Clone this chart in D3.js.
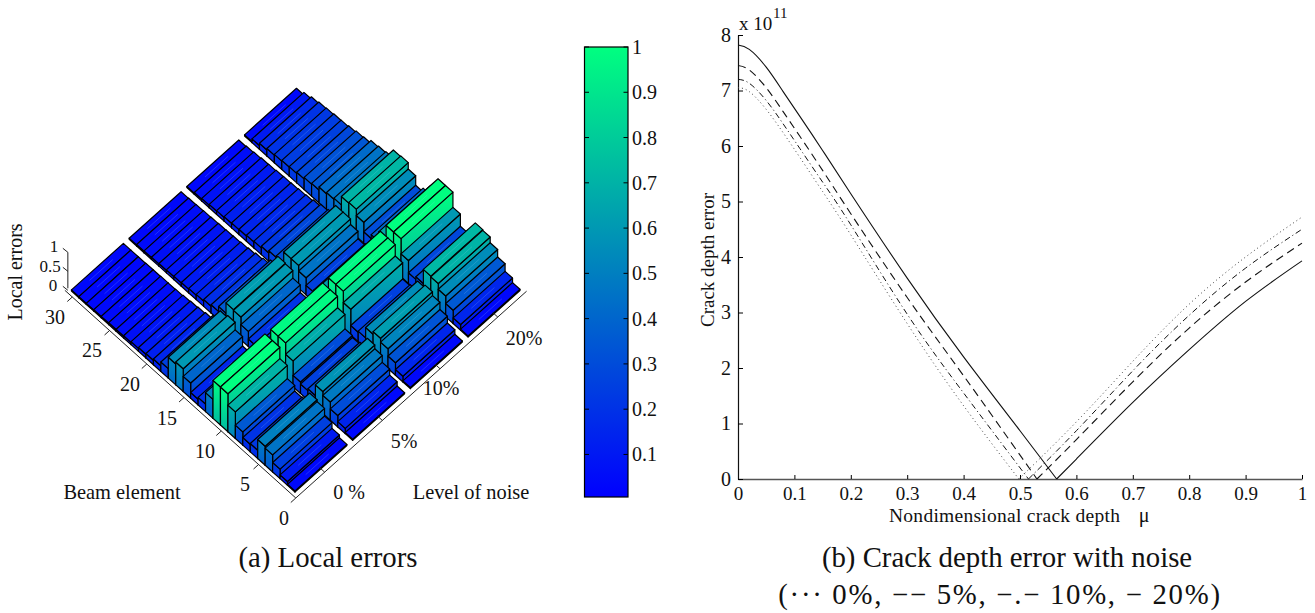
<!DOCTYPE html>
<html>
<head>
<meta charset="utf-8">
<script src="https://d3js.org/d3.v7.min.js"></script>
<style>
  html, body { margin: 0; padding: 0; background: #fff; }
  text { font-family: "Liberation Serif", serif; fill: #111; }
</style>
</head>
<body>
<div id="chart"></div>
<script>
// Local errors per beam element, one array per noise level (elements 1..30)
var noiseLabels = ['0 %', '5%', '10%', '20%'];
var errors0 = [.03,.1,.25,.45,.5,.22,.2,.35,.7,1,1,.5,.2,.15,.4,.6,.55,.25,.15,.12,.1,.08,.06,.05,.05,.04,.04,.03,.03,.03];
var errors5 = [.03,.14,.3,.48,.58,.3,.25,.3,.68,.98,.98,.45,.2,.2,.4,.6,.62,.35,.22,.18,.14,.12,.1,.09,.08,.07,.06,.05,.04,.03];
var errors10 = [.03,.15,.33,.52,.62,.55,.28,.25,.68,.98,.98,.62,.3,.25,.45,.6,.6,.32,.28,.22,.18,.16,.14,.13,.12,.1,.09,.07,.05,.03];
var errors20 = [.03,.15,.35,.55,.7,.72,.35,.28,.6,1,1,.65,.4,.3,.55,.72,.7,.48,.45,.42,.34,.32,.28,.25,.24,.22,.2,.16,.1,.03];
var errorLevels = [errors0, errors5, errors10, errors20];
var elementTicks = [0, 5, 10, 15, 20, 25, 30];
var errorTicks = [0, 0.5, 1];
var colorbarTicks = [0.1, 0.2, 0.3, 0.4, 0.5, 0.6, 0.7, 0.8, 0.9, 1];

// Crack depth error curves, in units of 10^11
var mu0 = [0,.02,.05,.08,.11,.15,.2,.3,.4,.498,.6,.7,.8,.9,1];
var depth0 = [7.05,6.98,6.66,6.24,5.79,5.18,4.4,2.8,1.32,0,1.03,2.12,3.15,4.0,4.72];
var mu5 = [0,.02,.05,.08,.11,.15,.2,.3,.4,.515,.6,.7,.8,.9,1];
var depth5 = [7.2,7.13,6.82,6.4,5.95,5.35,4.58,2.97,1.55,0,.87,1.95,2.95,3.8,4.5];
var mu10 = [0,.02,.05,.08,.11,.15,.2,.3,.4,.53,.6,.7,.8,.9,1];
var depth10 = [7.45,7.37,7.05,6.62,6.17,5.56,4.78,3.27,1.86,0,.71,1.75,2.72,3.55,4.25];
var mu20 = [0,.02,.05,.08,.11,.15,.2,.3,.4,.5,.565,.6,.7,.8,.9,1];
var depth20 = [7.82,7.74,7.42,6.98,6.53,5.92,5.14,3.62,2.2,.87,0,.36,1.38,2.33,3.2,3.93];

var svg = d3.select('#chart')
            .append('svg')
            .attr('width', 1315)
            .attr('height', 613);
var defs = svg.append('defs');

// Colormap (matlab winter)
var winter = d3.scaleLinear()
               .domain([0, 1])
               .range(['rgb(0,0,255)', 'rgb(0,255,128)']);

// 3D projection, each data axis moves the screen point along its own direction
var originX = 295.8, originY = 498;
var elemDx = d3.scaleLinear().domain([0, 30]).range([0, -223.5]);
var elemDy = d3.scaleLinear().domain([0, 30]).range([0, -201]);
var noiseDx = d3.scaleLinear().domain([0.5, 4.5]).range([0, 230.8]);
var noiseDy = d3.scaleLinear().domain([0.5, 4.5]).range([0, -206.8]);
var zDy = d3.scaleLinear().domain([0, 1]).range([0, -38]);

function project(e, n, z) {
  return [originX + elemDx(e) + noiseDx(n), originY + elemDy(e) + noiseDy(n) + zDy(z)];
}

function poly(points) {
  return points.map(function(p) { return p.join(','); }).join(' ');
}

// Bars, painted far to near
var bars = svg.append('g');
d3.range(errorLevels.length - 1, -1, -1).forEach(function(g) {
  var values = errorLevels[g];
  d3.range(values.length - 1, -1, -1).forEach(function(i) {
    var h = values[i];
    var e0 = i + 0.5, e1 = i + 1.5;
    var n0 = g + 1 - 0.45, n1 = g + 1 + 0.45;
    var id = 'bar-' + g + '-' + i;

    var grad = defs.append('linearGradient')
                   .attr('id', id)
                   .attr('x1', 0).attr('y1', 0)
                   .attr('x2', 0).attr('y2', 1);
    grad.append('stop').attr('offset', 0).attr('stop-color', winter(h));
    grad.append('stop').attr('offset', 1).attr('stop-color', winter(h * 0.72));

    var bar = bars.append('g')
                  .attr('stroke', '#000')
                  .attr('stroke-width', 1.2)
                  .attr('stroke-linejoin', 'round');
    // long side, towards lower elements
    bar.append('polygon')
       .attr('points', poly([project(e0, n0, h), project(e0, n1, h), project(e0, n1, 0), project(e0, n0, 0)]))
       .attr('fill', 'url(#' + id + ')');
    // short side, towards lower noise
    bar.append('polygon')
       .attr('points', poly([project(e0, n0, h), project(e1, n0, h), project(e1, n0, 0), project(e0, n0, 0)]))
       .attr('fill', 'url(#' + id + ')');
    // top
    bar.append('polygon')
       .attr('points', poly([project(e0, n0, h), project(e0, n1, h), project(e1, n1, h), project(e1, n0, h)]))
       .attr('fill', winter(h));
    // light streak left by the interpolated shading
    var mid = (e0 + e1) / 2;
    bar.append('line')
       .attr('x1', project(mid, n0 + 0.25, h)[0]).attr('y1', project(mid, n0 + 0.25, h)[1])
       .attr('x2', project(mid, n1 - 0.25, h)[0]).attr('y2', project(mid, n1 - 0.25, h)[1])
       .attr('stroke', '#9fd0ff')
       .attr('stroke-opacity', 0.3)
       .attr('stroke-width', 0.7);
  });
});

// 3D axes
var axes3d = svg.append('g').attr('stroke', '#222').attr('stroke-width', 1).attr('fill', 'none');
function seg(a, b) {
  axes3d.append('line')
        .attr('x1', a[0]).attr('y1', a[1])
        .attr('x2', b[0]).attr('y2', b[1]);
}
var corner = project(0, 0.5, 0);
var leftEnd = project(31, 0.5, 0);
seg(corner, leftEnd);
seg(corner, project(0, 4.5, 0));
seg([leftEnd[0] + 3, leftEnd[1] - 2], [leftEnd[0] + 3, zDy(1) + leftEnd[1] + 0]);

elementTicks.forEach(function(t) {
  var p = project(t, 0.5, 0);
  seg(p, [p[0] - 5, p[1] + 4.5]);
});
noiseLabels.forEach(function(l, i) {
  var p = project(0, i + 1, 0);
  seg(p, [p[0] - 5, p[1] - 4.5]);
});
errorTicks.forEach(function(t) {
  var x = leftEnd[0] + 3, y = leftEnd[1] + zDy(t);
  seg([x, y], [x - 5, y - 4]);
});

function label(x, y, s, size, anchor) {
  return svg.append('text')
            .attr('x', x).attr('y', y)
            .attr('font-size', size)
            .attr('text-anchor', anchor || 'middle')
            .text(s);
}

var elementLabelPos = [[284,525],[245,491],[205,458],[167,425],[130,391],[92,357],[55,324]];
elementTicks.forEach(function(t, i) {
  label(elementLabelPos[i][0], elementLabelPos[i][1], t, 20);
});
var noiseLabelPos = [[349,499],[404,448],[441,395],[524,345]];
noiseLabels.forEach(function(l, i) {
  label(noiseLabelPos[i][0], noiseLabelPos[i][1], l, 20);
});
label(54, 252, '1', 17);
label(50, 271.6, '0.5', 17);
label(53, 291.2, '0', 17);
label(122, 499, 'Beam element', 20.4);
label(471, 499, 'Level of noise', 20.4);
svg.append('text')
   .attr('transform', 'translate(22,272) rotate(-90)')
   .attr('font-size', 20)
   .attr('text-anchor', 'middle')
   .text('Local errors');

// Colorbar
var barScale = d3.scaleLinear().domain([0.006, 1]).range([497, 47]);
var cbGrad = defs.append('linearGradient')
                 .attr('id', 'cb')
                 .attr('x1', 0).attr('y1', 1)
                 .attr('x2', 0).attr('y2', 0);
cbGrad.append('stop').attr('offset', 0).attr('stop-color', winter(0));
cbGrad.append('stop').attr('offset', 1).attr('stop-color', winter(1));
svg.append('rect')
   .attr('x', 584.5).attr('y', 47)
   .attr('width', 43.5).attr('height', 450)
   .attr('fill', 'url(#cb)')
   .attr('stroke', '#000')
   .attr('stroke-width', 1.2);
colorbarTicks.forEach(function(t) {
  var y = barScale(t);
  svg.append('line').attr('x1', 584.5).attr('x2', 589).attr('y1', y).attr('y2', y).attr('stroke', '#000');
  svg.append('line').attr('x1', 623.5).attr('x2', 628).attr('y1', y).attr('y2', y).attr('stroke', '#000');
  label(632, y + 7, t, 20, 'start');
});

// Crack depth error plot
var xScale = d3.scaleLinear().domain([0, 1]).range([738, 1302]);
var yScale = d3.scaleLinear().domain([0, 8]).range([479, 35]);

var xAxis = d3.axisBottom(xScale).ticks(10).tickFormat(d3.format('~g')).tickSizeInner(-4).tickSizeOuter(0).tickPadding(7.5);
var yAxis = d3.axisLeft(yScale).ticks(8).tickSizeInner(-5).tickSizeOuter(0).tickPadding(7);

var gx = svg.append('g').attr('transform', 'translate(0,479)').call(xAxis);
var gy = svg.append('g').attr('transform', 'translate(738,0)').call(yAxis);
gx.selectAll('text').attr('font-size', 19).attr('font-family', '"Liberation Serif", serif');
gy.selectAll('text').attr('font-size', 20).attr('font-family', '"Liberation Serif", serif');
gx.select('.domain').attr('stroke', '#555').attr('stroke-width', 1.6);
gy.select('.domain').attr('stroke', '#111').attr('stroke-width', 1.2);

var line = d3.line()
             .x(function(d) { return xScale(d[0]); })
             .y(function(d) { return yScale(d[1]); })
             .curve(d3.curveNatural);

// each curve is smooth on both sides of the kink where the error hits zero
function curve(mu, depth, dash, color, width) {
  var rows = d3.zip(mu, depth);
  var kink = d3.leastIndex(depth);
  svg.append('path')
     .attr('d', line(rows.slice(0, kink + 1)) + line(rows.slice(kink)))
     .attr('fill', 'none')
     .attr('stroke', color)
     .attr('stroke-width', width)
     .attr('stroke-dasharray', dash);
}
curve(mu0, depth0, '1 3', '#444', 1);
curve(mu5, depth5, '6 3 1 3', '#111', 1);
curve(mu10, depth10, '8 5', '#111', 1.1);
curve(mu20, depth20, null, '#111', 1.1);

label(739, 30, 'x 10', 19, 'start');
label(773, 18, '11', 15, 'start');
svg.append('text')
   .attr('transform', 'translate(714,260) rotate(-90)')
   .attr('font-size', 19)
   .attr('text-anchor', 'middle')
   .text('Crack depth error');
label(889, 521.5, 'Nondimensional crack depth', 19.5, 'start').attr('letter-spacing', 0.27);
label(1144, 521.5, 'μ', 20);

// Captions
label(328, 567, '(a) Local errors', 28.8);
label(1007, 567, '(b) Crack depth error with noise', 28.8);
label(1000, 604, '(··· 0%, −− 5%, −.− 10%, − 20%)', 28.8).attr('letter-spacing', 1.7);
</script>
</body>
</html>
